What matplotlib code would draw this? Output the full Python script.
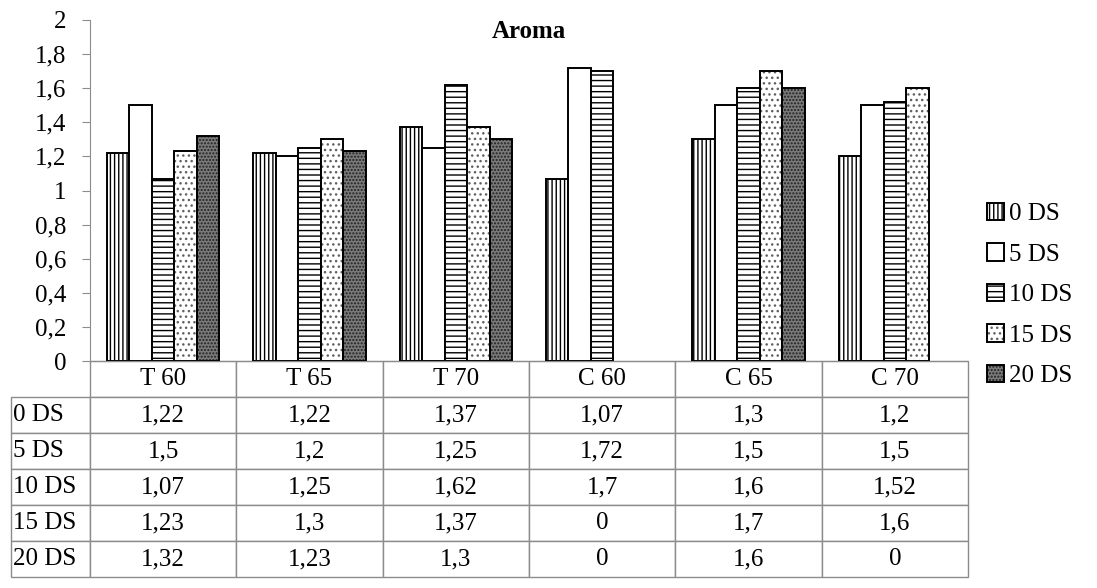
import matplotlib
matplotlib.use("Agg")
import matplotlib.pyplot as plt
import numpy as np

cats = ['T 60', 'T 65', 'T 70', 'C 60', 'C 65', 'C 70']
series = ['0 DS', '5 DS', '10 DS', '15 DS', '20 DS']
ds0 = [1.22, 1.22, 1.37, 1.07, 1.3, 1.2]
ds5 = [1.5, 1.2, 1.25, 1.72, 1.5, 1.5]
ds10 = [1.07, 1.25, 1.62, 1.7, 1.6, 1.52]
ds15 = [1.23, 1.3, 1.37, 0, 1.7, 1.6]
ds20 = [1.32, 1.23, 1.3, 0, 1.6, 0]
values = [ds0, ds5, ds10, ds15, ds20]

# fill, hatch, hatch colour for each series
styles = [
    ('white', '||||', 'black'),
    ('white', '', 'black'),
    ('white', '---', 'black'),
    ('white', '...', '#606060'),
    ('#7a7a7a', '.....', '#202020'),
]

plt.rcParams['font.family'] = ['Liberation Serif', 'DejaVu Serif']
plt.rcParams['hatch.linewidth'] = 1.0
fs = 18
grey = '#8c8c8c'


def fmt(v):
    return f"{v:g}".replace('.', ',')


def main():
    W, H = 1097, 588
    fig = plt.figure(figsize=(W / 100, H / 100), dpi=100)
    ax = fig.add_axes([90 / W, 1 - 361 / H, 878 / W, 341 / H])

    x = np.arange(len(cats))
    w = 1 / 6.5
    handles = []
    for j, vals in enumerate(values):
        fc, hatch, hc = styles[j]
        pos = x + (j - 2) * w
        lws = [1.4 if v > 0 else 0 for v in vals]
        b1 = ax.bar(pos, vals, w, color=fc, hatch=hatch, edgecolor=hc, linewidth=0)
        b2 = ax.bar(pos, vals, w, fill=False, edgecolor='black', linewidth=lws)
        handles.append((b1[0], b2[0]))

    ax.set_xlim(-0.5, len(cats) - 0.5)
    ax.set_ylim(0, 2)
    ax.set_yticks(np.arange(0, 2.01, 0.2))
    ax.set_yticklabels([fmt(round(v, 1)) for v in np.arange(0, 2.01, 0.2)], fontsize=fs)
    ax.set_xticks([])
    for s in ['top', 'right']:
        ax.spines[s].set_visible(False)
    for s in ['left', 'bottom']:
        ax.spines[s].set_color(grey)
    ax.tick_params(axis='y', length=6, color=grey, pad=11)

    ax.text(0.5, (361 - 31) / 341, 'Aroma', transform=ax.transAxes,
            ha='center', va='center', fontsize=fs, fontweight='bold')

    # data table below the chart
    rows = [[''] + cats]
    for name, vals in zip(series, values):
        rows.append([name] + [fmt(v) for v in vals])
    colw = [79] + [878 / 6] * 6
    tab = ax.table(cellText=rows, colWidths=colw, cellLoc='center',
                   bbox=[-79 / 878, -(577 - 361) / 341, (878 + 79) / 878, (577 - 361) / 341])
    tab.auto_set_font_size(False)
    tab.set_fontsize(fs)
    for (r, c), cell in tab.get_celld().items():
        cell.set_edgecolor(grey)
        cell.set_linewidth(1.0)
        if c == 0:
            cell.PAD = 0.03
            cell.get_text().set_ha('left')
            cell._loc = 'left'
    tab[0, 0].visible_edges = ''

    fig.legend(handles, series, loc='center left', bbox_to_anchor=(964 / W, 1 - 295 / H),
               frameon=False, fontsize=fs, handlelength=0.7, handleheight=0.7,
               handletextpad=0.2, labelspacing=0.72)

    fig.savefig('out.png', dpi=100)


if __name__ == '__main__':
    main()
